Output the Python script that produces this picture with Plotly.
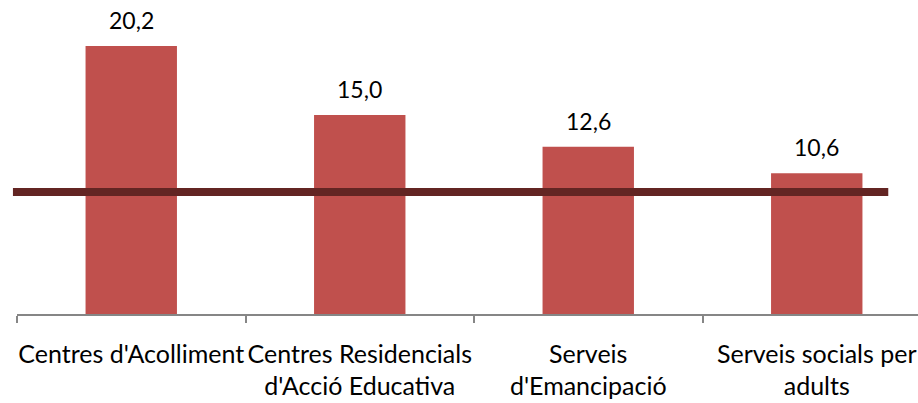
import plotly.graph_objects as go

categories = ["Centres d'Acolliment", "Centres Residencials<br>d'Acció Educativa",
              "Serveis<br>d'Emancipació", "Serveis socials per<br>adults"]
values = [20.2, 15.0, 12.6, 10.6]
value_labels = ["20,2", "15,0", "12,6", "10,6"]
reference_value = 9.2

FONT = "Lato"

fig = go.Figure()
fig.add_trace(go.Bar(
    x=categories, y=values,
    marker=dict(color="#C0504D", line=dict(width=0)),
    hoverinfo="skip",
))

for c, v, t in zip(categories, values, value_labels):
    fig.add_annotation(x=c, y=v, text=t, showarrow=False, yanchor="middle",
                       yshift=26, font=dict(family=FONT, size=23, color="#000000"))

fig.add_shape(type="line", xref="paper", yref="y",
              x0=-0.0045, x1=0.967, y0=reference_value, y1=reference_value,
              line=dict(color="#632523", width=8), layer="above")

fig.update_layout(
    width=918, height=403,
    margin=dict(l=17, r=0, t=0, b=89, autoexpand=False),
    paper_bgcolor="white", plot_bgcolor="white",
    showlegend=False, bargap=0.6,
    font=dict(family=FONT, size=25, color="#000000"),
    xaxis=dict(
        type="category", range=[-0.5, -0.5 + 901 / 228.5], automargin=False,
        showline=True, linecolor="#868686", linewidth=1.5,
        ticks="outside", tickson="boundaries", ticklen=7, tickcolor="#868686",
        tickwidth=1.5, showgrid=False, zeroline=False, tickangle=0,
        ticklabelstandoff=17,
        tickfont=dict(family=FONT, size=25, color="#000000"),
    ),
    yaxis=dict(range=[0, 314 / 13.27], visible=False, showgrid=False, zeroline=False),
)

# remove the page's default 8px body margin so the figure fills the window
fig.write_html("out.html", config={"displayModeBar": False},
               post_script="document.body.style.margin='0';document.body.style.overflow='hidden';")
